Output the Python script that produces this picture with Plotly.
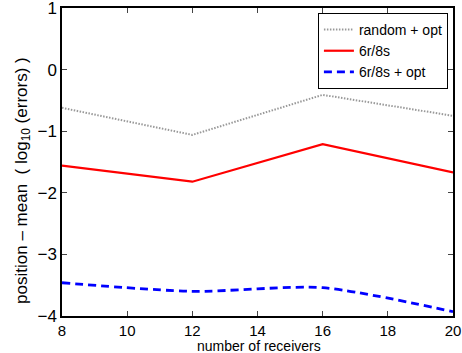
import plotly.graph_objects as go

receivers = [8, 12, 16, 20]
random_opt = [-0.62, -1.06, -0.41, -0.75]
r6s8 = [-1.56, -1.82, -1.21, -1.67]
r6s8_opt = [-3.46, -3.60, -3.54, -3.93]
x_ticks = [8, 10, 12, 14, 16, 18, 20]
y_ticks = [-4, -3, -2, -1, 0, 1]
y_tick_text = ["\u22124", "\u22123", "\u22122", "\u22121", "0", "1"]

fig = go.Figure()
fig.add_trace(go.Scatter(x=receivers, y=random_opt, mode="lines", name="random + opt",
                         line=dict(color="#999999", width=2, dash="1.5px,1.5px")))
fig.add_trace(go.Scatter(x=receivers, y=r6s8, mode="lines", name="6r/8s",
                         line=dict(color="#ff0000", width=2.2)))
fig.add_trace(go.Scatter(x=receivers, y=r6s8_opt, mode="lines", name="6r/8s + opt",
                         line=dict(color="#0000ff", width=2.8, dash="8px,5px",
                                   shape="spline", smoothing=0.7)))

font = "Liberation Sans, Arial, Helvetica, sans-serif"
fig.update_layout(
    width=462, height=353,
    margin=dict(l=62, r=9, t=8, b=37),
    paper_bgcolor="white", plot_bgcolor="white",
    font=dict(family=font, color="black"),
    showlegend=True,
    legend=dict(x=0.987, y=0.984, xanchor="right", yanchor="top",
                bordercolor="black", borderwidth=1, bgcolor="white",
                font=dict(size=14), tracegroupgap=0, itemwidth=30),
    xaxis=dict(range=[8, 20], tickvals=x_ticks, automargin=False,
               ticklabeloverflow="allow",
               ticks="inside", ticklen=5, showline=True, linecolor="black",
               linewidth=1.5, mirror="ticks", showgrid=False, zeroline=False,
               tickfont=dict(size=15)),
    yaxis=dict(range=[-4, 1], tickvals=y_ticks, ticktext=y_tick_text, automargin=False,
               ticklabeloverflow="allow",
               ticks="inside", ticklen=5, showline=True, linecolor="black",
               linewidth=1.5, mirror="ticks", showgrid=False, zeroline=False,
               tickfont=dict(size=17)),
    annotations=[
        dict(text="number of receivers", xref="paper", yref="paper",
             x=0.505, y=-0.13, xanchor="center", yanchor="bottom",
             showarrow=False, font=dict(size=14)),
        dict(text="position \u2013 mean  ( log<sub>10</sub> (errors) )", xref="paper", yref="paper",
             x=-0.1, y=0.4416, xanchor="center", yanchor="middle", textangle=-90,
             showarrow=False, font=dict(size=17)),
    ],
)
fig.write_html("out.html")
